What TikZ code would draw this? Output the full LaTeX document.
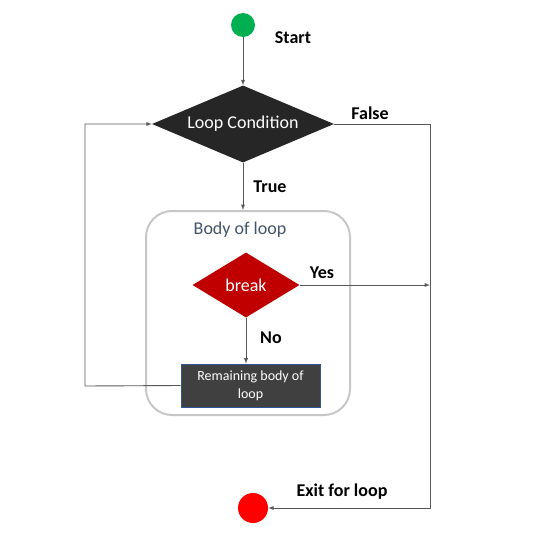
\documentclass[tikz,border=0pt]{standalone}
\usepackage{fontspec}
\setmainfont{Carlito}
\usetikzlibrary{positioning}
\usetikzlibrary{arrows.meta}
\usetikzlibrary{shapes.geometric}
\tikzset{>=latex}
\definecolor{startgreen}{HTML}{00B050}
\definecolor{exitred}{HTML}{FF0000}
\definecolor{breakred}{HTML}{C00000}
\definecolor{conddark}{HTML}{262626}
\definecolor{boxdark}{HTML}{404040}
\definecolor{boxedge}{HTML}{2F5597}
\definecolor{slate}{HTML}{44546A}
\definecolor{flow}{HTML}{595959}
\tikzstyle{lbl} = [font=\fontsize{18}{20}\selectfont\bfseries, text=black]
\tikzstyle{flowline} = [draw=flow, line width=0.9pt]

\begin{document}
\begin{tikzpicture}[x=1pt, y=-1pt]
\useasboundingbox (0, 0) rectangle (534, 536);
\node [rectangle, rounded corners=26pt, draw=black!22, line width=2pt, fill=white, minimum width=204pt, minimum height=204pt] (body) at (248, 313) {};
\node [circle, fill=startgreen, minimum size=24pt, inner sep=0pt] (start) at (243, 25) {};
\node [lbl] (startlbl) at (293, 38) {Start};
\node [diamond, aspect=2.36, fill=conddark, inner sep=0pt, minimum width=182pt, minimum height=77pt, text=white, font=\fontsize{18}{20}\selectfont] (cond) at (243, 124) {Loop Condition};
\node [lbl] (falselbl) at (370, 113) {False};
\node [lbl] (truelbl) at (270, 187) {True};
\node [text=slate, font=\fontsize{18}{20}\selectfont] (bodylbl) at (240, 230) {Body of loop};
\node [diamond, aspect=1.65, fill=breakred, inner sep=0pt, minimum width=107pt, minimum height=65pt, text=white, font=\fontsize{18}{20}\selectfont] (brk) at (246, 285) {break};
\node [lbl] (yeslbl) at (322, 273) {Yes};
\node [lbl] (nolbl) at (271, 338) {No};
\node [rectangle, fill=boxdark, draw=boxedge, line width=0.7pt, minimum width=139pt, minimum height=43pt, inner sep=1pt, text=white, align=center, font=\fontsize{14}{18}\selectfont] (rest) at (250.5, 385.5) {Remaining body of\\loop};
\node [circle, fill=exitred, minimum size=30pt, inner sep=0pt] (exit) at (253, 508) {};
\node [lbl] (exitlbl) at (342, 492) {Exit for loop};
\coordinate (fcorner) at (430, 124);
\coordinate (ycorner) at (430, 285);
\coordinate (ecorner) at (430, 508);
\coordinate (lbottom) at (85, 386);
\coordinate (ltop) at (85, 124);
\draw [-latex, flowline] (start) to (cond.north);
\draw [-latex, flowline] (cond.south) to (body.north -| cond.south);
\draw [-latex, flowline] (brk.south) to (rest.north -| brk.south);
\draw [-latex, flowline] (brk.east) to (ycorner);
\draw [-latex, flowline] (cond.east) -- (fcorner) -- (ecorner) -- (exit);
\draw [-latex, flowline] (rest.west) -- (lbottom) -- (ltop) -- (cond.west);
\end{tikzpicture}
\end{document}
